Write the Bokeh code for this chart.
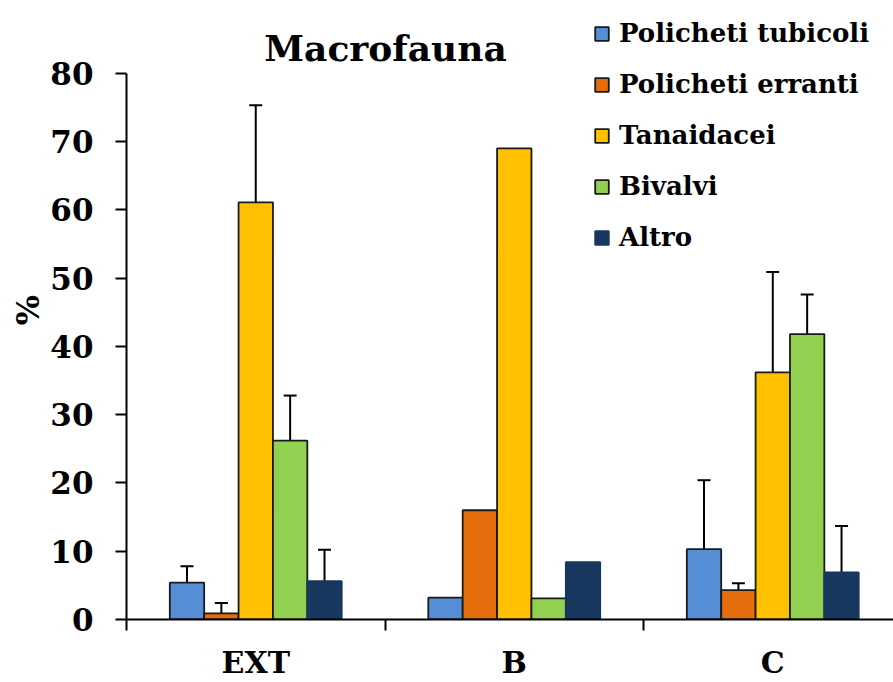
from bokeh.plotting import figure
from bokeh.models import (ColumnDataSource, Whisker, TeeHead, Legend, LegendItem,
                          FixedTicker, Range1d, Label)
from bokeh.embed import file_html
from bokeh.resources import INLINE

# ---- data ----
groups = ["EXT", "B", "C"]
series = ["Policheti tubicoli", "Policheti erranti", "Tanaidacei", "Bivalvi", "Altro"]
colors = ["#558ED5", "#E46C0A", "#FFC000", "#92D050", "#17375E"]
outlines = ["#1a1a1a", "#1a1a1a", "#1a1a1a", "#1a1a1a", "#17375E"]

tubicoli = [5.4, 3.2, 10.3]
erranti = [0.9, 16.0, 4.3]
tanaidacei = [61.1, 69.0, 36.2]
bivalvi = [26.2, 3.1, 41.8]
altro = [5.6, 8.4, 6.9]

tubicoli_err = [2.4, 0.0, 10.1]
erranti_err = [1.5, 0.0, 1.0]
tanaidacei_err = [14.2, 0.0, 14.7]
bivalvi_err = [6.6, 0.0, 5.8]
altro_err = [4.6, 0.0, 6.8]

# lower half of the error bar is visible only where it rises above the bar's base
tubicoli_err_low = [0.0, 0.0, 0.0]
erranti_err_low = [0.0, 0.0, 0.8]
tanaidacei_err_low = [0.0, 0.0, 0.0]
bivalvi_err_low = [0.0, 0.0, 0.0]
altro_err_low = [0.0, 0.0, 0.0]

y_ticks = [0, 10, 20, 30, 40, 50, 60, 70, 80]

values = [tubicoli, erranti, tanaidacei, bivalvi, altro]
errors = [tubicoli_err, erranti_err, tanaidacei_err, bivalvi_err, altro_err]
errors_low = [tubicoli_err_low, erranti_err_low, tanaidacei_err_low, bivalvi_err_low, altro_err_low]

FONT = "DejaVu Serif"
BAR_W = 0.133

p = figure(width=893, height=682, output_backend="svg", toolbar_location=None,
           x_range=Range1d(0, 2.967), y_range=Range1d(0, 90.66),
           min_border_left=126, min_border_right=0, min_border_top=0, min_border_bottom=61)
p.outline_line_color = None
p.xgrid.visible = False
p.ygrid.visible = False

legend_items = []
for k, (name, vals, errs, errs_low) in enumerate(zip(series, values, errors, errors_low)):
    xs = [i + 0.5 + (k - 2) * BAR_W for i in range(len(groups))]
    src = ColumnDataSource(dict(x=xs, top=vals))
    r = p.vbar(x="x", top="top", width=BAR_W, bottom=0, source=src,
               fill_color=colors[k], line_color=outlines[k], line_width=1.8)
    legend_items.append(LegendItem(label=name, renderers=[r]))

    ex = [x for x, e in zip(xs, errs) if e > 0]
    ev = [v for v, e in zip(vals, errs) if e > 0]
    eh = [v + e for v, e in zip(vals, errs) if e > 0]
    if ex:
        esrc = ColumnDataSource(dict(base=ex, lower=ev, upper=eh))
        p.add_layout(Whisker(base="base", lower="lower", upper="upper", source=esrc,
                             dimension="height", line_color="black", line_width=2,
                             upper_head=TeeHead(size=13, line_width=2, line_color="black"),
                             lower_head=None))
    lx = [x for x, e in zip(xs, errs_low) if e > 0]
    lv = [v for v, e in zip(vals, errs_low) if e > 0]
    ll = [v - e for v, e in zip(vals, errs_low) if e > 0]
    if lx:
        lsrc = ColumnDataSource(dict(base=lx, lower=ll, upper=lv))
        p.add_layout(Whisker(base="base", lower="lower", upper="upper", source=lsrc,
                             dimension="height", line_color="black", line_width=2,
                             lower_head=TeeHead(size=13, line_width=2, line_color="black"),
                             upper_head=None))

# x axis: labels at category centres, ticks at category boundaries
p.xaxis.ticker = FixedTicker(ticks=[i + 0.5 for i in range(len(groups))],
                             minor_ticks=list(range(len(groups) + 1)))
p.xaxis.major_label_overrides = {i + 0.5: g for i, g in enumerate(groups)}
p.xaxis.major_tick_out = 0
p.xaxis.major_tick_in = 0
p.xaxis.minor_tick_out = 11
p.xaxis.minor_tick_in = 0
p.xaxis.minor_tick_line_color = "black"
p.xaxis.minor_tick_line_width = 2
p.xaxis.axis_line_color = "black"
p.xaxis.axis_line_width = 2
p.xaxis.major_label_text_font = FONT
p.xaxis.major_label_text_font_size = "30px"
p.xaxis.major_label_text_font_style = "bold"
p.xaxis.major_label_text_color = "black"
p.xaxis.major_label_standoff = 14

p.yaxis.ticker = FixedTicker(ticks=y_ticks, minor_ticks=[])
p.yaxis.bounds = (y_ticks[0], y_ticks[-1])
p.yaxis.major_tick_out = 11
p.yaxis.major_tick_in = 0
p.yaxis.major_tick_line_color = "black"
p.yaxis.major_tick_line_width = 2
p.yaxis.axis_line_color = "black"
p.yaxis.axis_line_width = 2
p.yaxis.major_label_text_font = FONT
p.yaxis.major_label_text_font_size = "31px"
p.yaxis.major_label_text_font_style = "bold"
p.yaxis.major_label_text_color = "black"
p.yaxis.major_label_standoff = 22
p.yaxis.axis_label = "%"
p.yaxis.axis_label_text_font = FONT
p.yaxis.axis_label_text_font_size = "32px"
p.yaxis.axis_label_text_font_style = "bold"
p.yaxis.axis_label_text_color = "black"
p.yaxis.axis_label_standoff = 0

title = Label(text="Macrofauna", x=259, y=572, x_units="screen", y_units="screen",
              text_align="center", text_baseline="alphabetic",
              text_font=FONT, text_font_size="36px", text_font_style="bold",
              text_color="black")
p.add_layout(title)

legend = Legend(items=legend_items, location=(467, 367),
                glyph_width=17, glyph_height=17, label_standoff=9,
                label_text_font=FONT, label_text_font_size="26px",
                label_text_font_style="bold", label_text_color="black",
                spacing=21, padding=0, margin=0,
                border_line_color=None, background_fill_alpha=0)
p.add_layout(legend, "center")

open("out.html", "w").write(file_html(p, INLINE))
